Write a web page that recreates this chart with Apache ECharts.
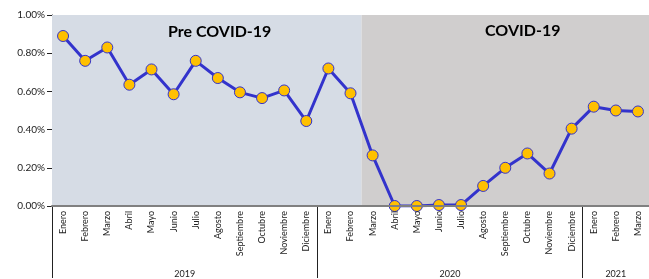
<!DOCTYPE html>
<html>
    <head>
        <meta charset="UTF-8">
        <title>ECharts</title>
        <script src="https://cdn.jsdelivr.net/npm/echarts@6/dist/echarts.min.js"></script>
    </head>
    <body style="margin:0;background:#fff;">
        <div id="main" style="width:649px; height:279px;"></div>
        <script>
            var chart = echarts.init(document.getElementById('main'));

            // meses (ene 2019 - mar 2021)
            var months = ['Enero','Febrero','Marzo','Abril','Mayo','Junio','Julio','Agosto','Septiembre','Octubre','Noviembre','Diciembre',
                          'Enero','Febrero','Marzo','Abril','Mayo','Junio','Julio','Agosto','Septiembre','Octubre','Noviembre','Diciembre',
                          'Enero','Febrero','Marzo'];
            var values = [0.89,0.76,0.83,0.635,0.715,0.585,0.76,0.67,0.595,0.565,0.605,0.445,
                          0.72,0.59,0.265,0.0,0.0,0.005,0.005,0.105,0.20,0.275,0.17,0.405,
                          0.52,0.50,0.495];
            // periodos: pre covid = primeros 14 meses, covid = el resto
            var preMonths = 14;
            var years = ['2019','2020','2021'];
            var yearCenters = [6, 18, 25.5];
            var yearBreaks = [0, 12, 24];

            var font = 'Lato';
            var bgColors = ['#d6dce5','#d0cece'];
            var n = months.length;

            var option = {
                animation:false,
                textStyle:{fontFamily:font},
                grid:{left:52, right:0, top:15, bottom:72},
                xAxis:[{
                    type:'category',
                    data:months,
                    axisLine:{lineStyle:{color:'#808080', width:2}},
                    axisTick:{show:false},
                    axisLabel:{rotate:90, interval:0, fontSize:9, color:'#222', margin:5, fontFamily:font},
                    z:5
                },{
                    type:'value',
                    min:0, max:n,
                    position:'bottom',
                    axisLine:{show:false},
                    splitLine:{show:false},
                    axisTick:{show:true, customValues:yearBreaks, length:72, lineStyle:{color:'#222', width:1}},
                    axisLabel:{customValues:yearCenters, margin:64, fontSize:9, color:'#222',
                        formatter:function(v){ return years[yearCenters.indexOf(v)]; }}
                }],
                yAxis:{
                    type:'value',
                    min:0, max:1, interval:0.2,
                    axisLine:{show:true, lineStyle:{color:'#222'}},
                    axisTick:{show:true, length:5, lineStyle:{color:'#222'}},
                    splitLine:{show:false},
                    axisLabel:{fontSize:10, color:'#222', margin:7, formatter:function(v){ return v.toFixed(2) + '%'; }}
                },
                graphic:[
                    {type:'text', left:168, top:24, z:100, style:{text:'Pre COVID-19', font:'bold 16px ' + font, fill:'#000'}},
                    {type:'text', left:485, top:23, z:100, style:{text:'COVID-19', font:'bold 16px ' + font, fill:'#000'}}
                ],
                series:[{
                    // fondo de los periodos
                    type:'line',
                    xAxisIndex:1,
                    silent:true,
                    symbol:'none',
                    lineStyle:{opacity:0},
                    data:[[0,0]],
                    z:1,
                    markArea:{
                        silent:true,
                        data:[
                            [{xAxis:0, itemStyle:{color:bgColors[0]}}, {xAxis:preMonths}],
                            [{xAxis:preMonths, itemStyle:{color:bgColors[1]}}, {xAxis:n}]
                        ]
                    }
                },{
                    type:'line',
                    data:values,
                    symbol:'circle',
                    symbolSize:11,
                    lineStyle:{color:'#3333cc', width:3},
                    itemStyle:{color:'#ffc000', borderColor:'#3333cc', borderWidth:1},
                    z:3
                }]
            };
            chart.setOption(option);
        </script>
    </body>
</html>
